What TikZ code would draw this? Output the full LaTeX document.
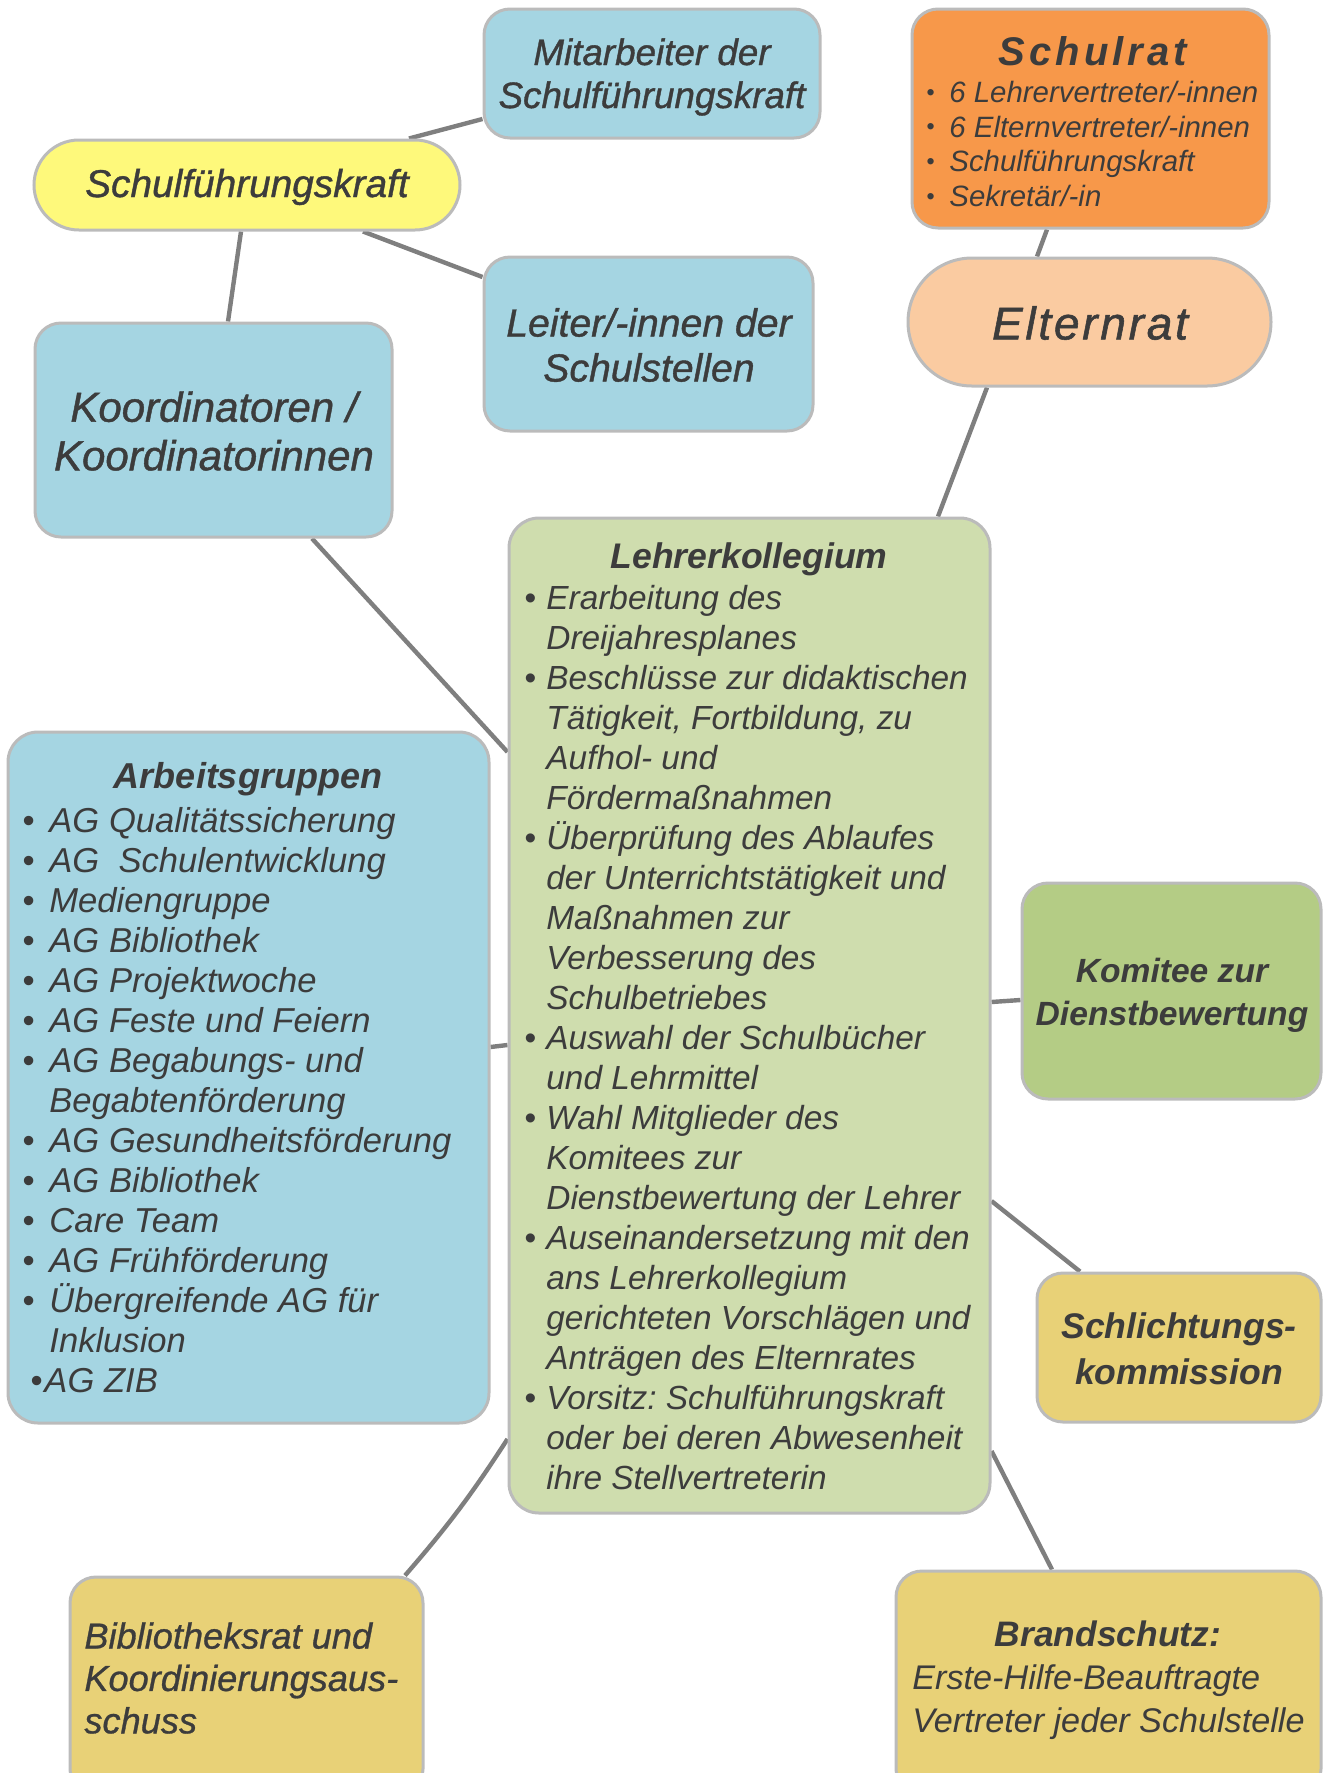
\documentclass[tikz,border=0pt]{standalone}
\usepackage{fontspec}
\setmainfont{Liberation Sans}
\usetikzlibrary{fit,calc,backgrounds}
\frenchspacing
\definecolor{cblue}{HTML}{A5D5E2}
\definecolor{cyellow}{HTML}{FEF97B}
\definecolor{corange}{HTML}{F7984A}
\definecolor{cpeach}{HTML}{FACBA1}
\definecolor{cgreen}{HTML}{CFDDAE}
\definecolor{cgreendk}{HTML}{B4CC85}
\definecolor{cgold}{HTML}{E8D177}
\definecolor{cborder}{HTML}{BBBBBB}
\definecolor{cline}{HTML}{7F7F7F}
\definecolor{ctext}{HTML}{3C3C3C}
\newcommand{\lkb}[1]{\makebox[11pt][l]{\textbullet}#1}
\newcommand{\lkc}[1]{\hspace*{11pt}#1}
\newcommand{\agb}[1]{\makebox[13.5pt][l]{\textbullet}#1}
\newcommand{\agc}[1]{\hspace*{13.5pt}#1}
\newcommand{\srb}[1]{\makebox[11.5pt][l]{\raisebox{0.08em}{\scalebox{0.8}{\textbullet}}}#1}
\tikzset{
  box/.style={draw=cborder, line width=1.5pt, rounded corners=13pt, inner sep=0pt},
  conn/.style={draw=cline, line width=2.2pt},
  txt/.style={text=ctext, inner sep=0pt},
}
\begin{document}
\begin{tikzpicture}[x=0.5pt,y=-0.5pt]
\useasboundingbox (0,0) rectangle (1329,1773);
\clip (0,0) rectangle (1329,1773);
% boxes
\node[box, fill=cblue, fit={(484,9) (820,138)}] (mit) {};
\node[box, fill=cyellow, rounded corners=22.5pt, fit={(34,140) (460,230)}] (sfk) {};
\node[box, fill=cblue, fit={(484,257) (813,431)}] (ls) {};
\node[box, fill=cblue, fit={(35,323) (392,537)}] (ko) {};
\node[box, fill=corange, fit={(912,9) (1269,228)}] (sr) {};
\node[box, fill=cpeach, rounded corners=32pt, fit={(908,258) (1271,386)}] (er) {};
\node[box, fill=cgreen, rounded corners=15pt, fit={(509,518) (990,1513)}] (lk) {};
\node[box, fill=cblue, rounded corners=15pt, fit={(8,732) (489,1423)}] (ag) {};
\node[box, fill=cgreendk, fit={(1022,883) (1321,1099)}] (kd) {};
\node[box, fill=cgold, fit={(1037,1273) (1321,1422)}] (sk) {};
\node[box, fill=cgold, fit={(896,1571) (1321,1795)}] (bs) {};
\node[box, fill=cgold, fit={(70,1577) (423,1795)}] (br) {};
% connectors
\begin{scope}[on background layer]
\draw[conn] ([xshift=81pt]sfk.north) -- ([yshift=-22.75pt]mit.west);
\draw[conn] ([xshift=58pt]sfk.south) -- ([yshift=33.5pt]ls.west);
\draw[conn] ([xshift=-3pt]sfk.south) -- ([xshift=7.25pt]ko.north);
\draw[conn] ([xshift=-21.75pt]sr.south) -- ([xshift=-26.25pt]er.north);
\draw[conn] ([xshift=-51.25pt]er.south) -- ([xshift=94.25pt]lk.north);
\draw[conn] ([xshift=49.25pt]ko.south) -- ([yshift=131.75pt]lk.west);
\draw[conn] ([yshift=15.25pt]ag.east) -- ([yshift=-14.75pt]lk.west);
\draw[conn] ([yshift=-4.5pt]kd.west) -- ([yshift=6.75pt]lk.east);
\draw[conn] ([yshift=-92.75pt]lk.east) -- ([xshift=-49.5pt]sk.north);
\draw[conn] ([yshift=-217.75pt]lk.east) -- ([xshift=-28.25pt]bs.north);
\draw[conn] ([yshift=-211.75pt]lk.west) to[bend left=4] ([xshift=79.25pt]br.north);
\end{scope}
% texts
\node[txt, align=center, font=\fontsize{18.4}{21.5}\selectfont\itshape\addfontfeature{FakeBold=1}] (mitt) at (652,77) {Mitarbeiter der\\Schulführungskraft};
\node[txt, font=\fontsize{19.4}{23}\selectfont\itshape\addfontfeature{FakeBold=1}] (sfkt) at (247,187) {Schulführungskraft};
\node[txt, align=center, font=\fontsize{19.6}{22.5}\selectfont\itshape\addfontfeature{FakeBold=1}] (lst) at (649,345) {Leiter/-innen der\\Schulstellen};
\node[txt, align=center, font=\fontsize{21}{24.3}\selectfont\itshape\addfontfeature{FakeBold=1}] (kot) at (214,431) {Koordinatoren /\\Koordinatorinnen};
\node[txt, font=\fontsize{20}{24}\selectfont\bfseries\itshape\addfontfeature{LetterSpace=10}] (srt) at (1093,51) {Schulrat};
\node[txt, align=left, font=\fontsize{14.7}{17.35}\selectfont\itshape] (srl) [anchor=west] at (926,144) {\srb{6 Lehrervertreter/-innen}\\\srb{6 Elternvertreter/-innen}\\\srb{Schulführungskraft}\\\srb{Sekretär/-in}};
\node[txt, font=\fontsize{23}{27}\selectfont\itshape\addfontfeature{LetterSpace=6,FakeBold=1.2}] (ert) at (1090,323) {Elternrat};
\node[txt, font=\fontsize{17.8}{21}\selectfont\bfseries\itshape] (lkt) at (749,559) {Lehrerkollegium};
\node[txt, align=left, font=\fontsize{16.7}{20}\selectfont\itshape] (lkl) [anchor=west] at (524,1038) {%
\lkb{Erarbeitung des}\\
\lkc{Dreijahresplanes}\\
\lkb{Beschlüsse zur didaktischen}\\
\lkc{Tätigkeit, Fortbildung, zu}\\
\lkc{Aufhol- und}\\
\lkc{Fördermaßnahmen}\\
\lkb{Überprüfung des Ablaufes}\\
\lkc{der Unterrichtstätigkeit und}\\
\lkc{Maßnahmen zur}\\
\lkc{Verbesserung des}\\
\lkc{Schulbetriebes}\\
\lkb{Auswahl der Schulbücher}\\
\lkc{und Lehrmittel}\\
\lkb{Wahl Mitglieder des}\\
\lkc{Komitees zur}\\
\lkc{Dienstbewertung der Lehrer}\\
\lkb{Auseinandersetzung mit den}\\
\lkc{ans Lehrerkollegium}\\
\lkc{gerichteten Vorschlägen und}\\
\lkc{Anträgen des Elternrates}\\
\lkb{Vorsitz: Schulführungskraft}\\
\lkc{oder bei deren Abwesenheit}\\
\lkc{ihre Stellvertreterin}};
\node[txt, font=\fontsize{18}{21}\selectfont\bfseries\itshape] (agt) at (248,779) {Arbeitsgruppen};
\node[txt, align=left, font=\fontsize{17.3}{20}\selectfont\itshape] (agl) [anchor=west] at (22,1100) {%
\agb{AG Qualitätssicherung}\\
\agb{AG\ \ Schulentwicklung}\\
\agb{Mediengruppe}\\
\agb{AG Bibliothek}\\
\agb{AG Projektwoche}\\
\agb{AG Feste und Feiern}\\
\agb{AG Begabungs- und}\\
\agc{Begabtenförderung}\\
\agb{AG Gesundheitsförderung}\\
\agb{AG Bibliothek}\\
\agb{Care Team}\\
\agb{AG Frühförderung}\\
\agb{Übergreifende AG für}\\
\agc{Inklusion}\\
\hspace*{4pt}\textbullet\hspace{1pt}AG ZIB};
\node[txt, align=center, font=\fontsize{16.8}{21.5}\selectfont\bfseries\itshape] (kdt) at (1172,995) {Komitee zur\\Dienstbewertung};
\node[txt, align=center, font=\fontsize{17.8}{23}\selectfont\bfseries\itshape] (skt) at (1179,1349) {Schlichtungs-\\kommission};
\node[txt, font=\fontsize{17.7}{21}\selectfont\bfseries\itshape] (bst) at (1108,1634) {Brandschutz:};
\node[txt, align=left, font=\fontsize{17.1}{21.75}\selectfont\itshape] (bsl) [anchor=west] at (912,1702) {Erste-Hilfe-Beauftragte\\Vertreter jeder Schulstelle};
\node[txt, align=left, font=\fontsize{18.1}{21.2}\selectfont\itshape\addfontfeature{FakeBold=0.8}] (brt) [anchor=west] at (84,1678) {Bibliotheksrat und\\Koordinierungsaus-\\schuss};
\end{tikzpicture}
\end{document}
